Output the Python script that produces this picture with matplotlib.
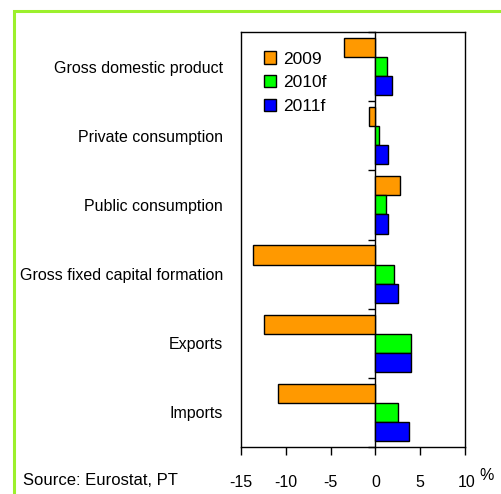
import numpy as np
import matplotlib
matplotlib.use('Agg')
import matplotlib.pyplot as plt
import matplotlib.transforms as mtransforms
from matplotlib.patches import Rectangle

# Data (% change)
categories = ['Gross domestic product', 'Private consumption', 'Public consumption',
              'Gross fixed capital formation', 'Exports', 'Imports']
series_names = ['2009', '2010f', '2011f']
v2009 = [-3.5, -0.7, 2.7, -13.7, -12.4, -10.9]
v2010 = [1.3, 0.4, 1.2, 2.1, 4.0, 2.5]
v2011 = [1.8, 1.4, 1.4, 2.5, 4.0, 3.8]
xticks = [-15, -10, -5, 0, 5, 10]
xticklabels = ['-15', '-10', '-5', '0', '5', '10']
colors = ['#ff9900', '#00ff00', '#0000ff']

plt.rcParams['font.family'] = ['Liberation Sans', 'DejaVu Sans']

fig = plt.figure(figsize=(5.02, 4.94), dpi=100)
ax = fig.add_axes([241 / 502, 1 - 447 / 494, 224 / 502, 415 / 494])

# Green frame round the panel
fig.patches.append(Rectangle((14 / 502, -0.1), 1.2, 1 - 10.7 / 494 + 0.1,
                             transform=fig.transFigure, fill=False,
                             edgecolor='#9cf02c', linewidth=2.2, zorder=0))

y = np.arange(len(categories))
h = 0.277
for i, (vals, name) in enumerate(zip([v2009, v2010, v2011], series_names)):
    ax.barh(y + (i - 1) * h, vals, height=h, color=colors[i],
            edgecolor='black', linewidth=1.0, label=name, zorder=3)

ax.set_xlim(-15, 10)
ax.set_ylim(len(categories) - 0.5, -0.5)

ax.set_yticks(y)
ax.set_yticklabels(categories, fontsize=11.5)
ax.tick_params(axis='y', length=0, pad=13)

ax.set_xticks(xticks)
ax.set_xticklabels(xticklabels, fontsize=11.5)
ax.tick_params(axis='x', length=6, width=1, direction='out', pad=14)

# last label sits a little right of its tick, next to the % sign
last = ax.get_xticklabels()[-1]
last.set_transform(last.get_transform() +
                   mtransforms.ScaledTranslation(2 / 100, 0, fig.dpi_scale_trans))

for sp in ax.spines.values():
    sp.set_linewidth(1.0)

# zero axis with category separator ticks
zero = ax.secondary_yaxis(15 / 25)
zero.set_alignment('left')
zero.set_yticks(np.arange(len(categories) + 1) - 0.5)
zero.set_yticklabels([])
zero.tick_params(length=5, width=1, direction='out')
zero.spines['left'].set_linewidth(1.0)

fig.text(487 / 502, 1 - 475 / 494, '%', fontsize=11.5, ha='center', va='center')
fig.text(23 / 502, 1 - 480 / 494, 'Source: Eurostat, PT', fontsize=12,
         ha='left', va='center')

ax.legend(loc='upper left', bbox_to_anchor=(0.07, 0.97), frameon=False,
          fontsize=12.5, handlelength=0.7, handleheight=0.7, handletextpad=0.4,
          labelspacing=0.5, borderaxespad=0)

fig.savefig('out.png', dpi=100)
